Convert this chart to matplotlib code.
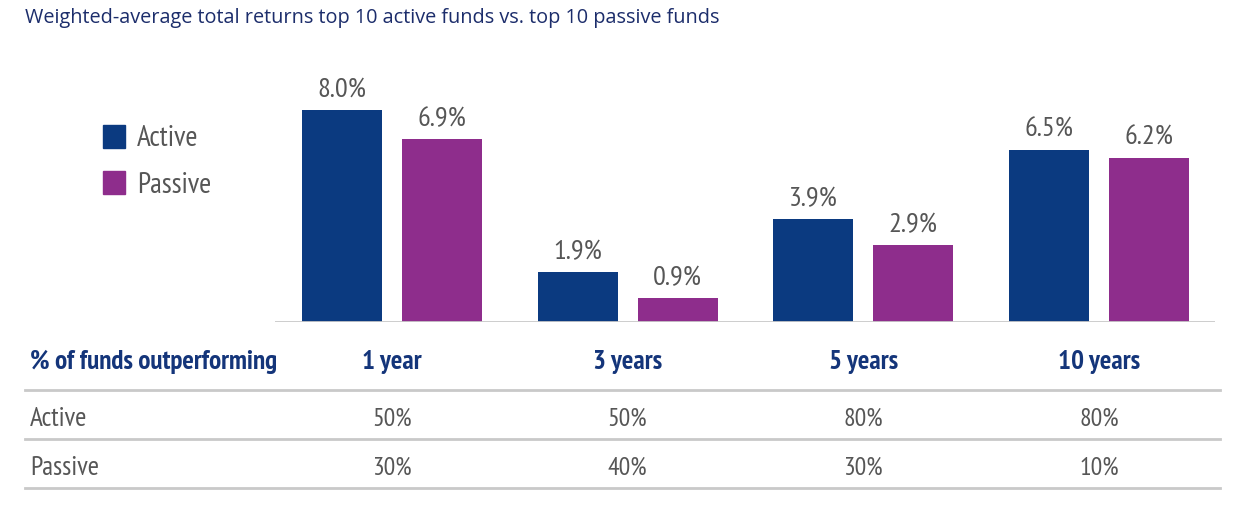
"""Weighted-average total returns: top 10 active vs. top 10 passive funds."""

import matplotlib
matplotlib.use("Agg")
import matplotlib.pyplot as plt
import matplotlib.patches as mpatches
from matplotlib.transforms import blended_transform_factory
import numpy as np

PERIODS = ["1 year", "3 years", "5 years", "10 years"]
ACTIVE_RETURN = [8.0, 1.9, 3.9, 6.5]
PASSIVE_RETURN = [6.9, 0.9, 2.9, 6.2]
ACTIVE_OUTPERF = ["50%", "50%", "80%", "80%"]
PASSIVE_OUTPERF = ["30%", "40%", "30%", "10%"]

ACTIVE_COLOR = "#0b3a80"
PASSIVE_COLOR = "#8e2d8c"
NAVY = "#14357a"
GREY_TEXT = "#565656"
RULE = "#c9c9c9"
NARROW = ["PT Sans Narrow", "DejaVu Sans"]

W, H = 1240, 518


def px(x, y):
    """Pixel position (from top-left) to figure fraction."""
    return x / W, 1 - y / H


def main():
    fig = plt.figure(figsize=(W / 100, H / 100), dpi=100)

    # bar axes: baseline at y=322px, spans x=275..1215px
    left, bottom = px(275, 322)
    _, top = px(0, 60)
    ax = fig.add_axes([left, bottom, 940 / W, top - bottom])
    x = np.arange(len(PERIODS))
    width = 0.34
    off = 0.212
    ax.bar(x - off, ACTIVE_RETURN, width, color=ACTIVE_COLOR, zorder=2)
    ax.bar(x + off, PASSIVE_RETURN, width, color=PASSIVE_COLOR, zorder=2)
    for xi, a, p in zip(x, ACTIVE_RETURN, PASSIVE_RETURN):
        ax.text(xi - off, a + 0.3, f"{a:.1f}%", ha="center", va="bottom",
                fontsize=20.5, color=GREY_TEXT, family=NARROW)
        ax.text(xi + off, p + 0.3, f"{p:.1f}%", ha="center", va="bottom",
                fontsize=20.5, color=GREY_TEXT, family=NARROW)
    ax.set_xlim(-0.496, 3.492)
    ax.set_ylim(0, 262 / 26.5)
    ax.axhline(0, color=RULE, linewidth=2, zorder=3)
    ax.set_axis_off()

    # legend squares
    for ypix, label, color in [(125, "Active", ACTIVE_COLOR), (171, "Passive", PASSIVE_COLOR)]:
        fx, fy = px(103, ypix + 23)
        fig.patches.append(mpatches.Rectangle((fx, fy), 22 / W, 23 / H, color=color,
                                              transform=fig.transFigure))
        tx, ty = px(137, ypix + 14)
        fig.text(tx, ty, label, ha="left", va="center", fontsize=21,
                 color=GREY_TEXT, family=NARROW)

    # title
    fig.text(*px(25, 18), "Weighted-average total returns top 10 active funds vs. top 10 passive funds",
             ha="left", va="center", fontsize=14.3, color="#1c2d6b", family="Open Sans")

    # table below the bars
    trans = blended_transform_factory(ax.transData, fig.transFigure)
    y_head, y_act, y_pas = 362, 419, 468
    fig.text(*px(30, y_head), "% of funds outperforming", ha="left", va="center",
             fontsize=19.5, fontweight="bold", color=NAVY, family=NARROW)
    fig.text(*px(30, y_act), "Active", ha="left", va="center",
             fontsize=19.5, color=GREY_TEXT, family=NARROW)
    fig.text(*px(30, y_pas), "Passive", ha="left", va="center",
             fontsize=19.5, color=GREY_TEXT, family=NARROW)
    for xi, period, a, p in zip(x, PERIODS, ACTIVE_OUTPERF, PASSIVE_OUTPERF):
        ax.text(xi, px(0, y_head)[1], period, transform=trans, ha="center", va="center",
                fontsize=19.5, fontweight="bold", color=NAVY, family=NARROW)
        ax.text(xi, px(0, y_act)[1], a, transform=trans, ha="center", va="center",
                fontsize=18.5, color=GREY_TEXT, family=NARROW)
        ax.text(xi, px(0, y_pas)[1], p, transform=trans, ha="center", va="center",
                fontsize=18.5, color=GREY_TEXT, family=NARROW)
    for ypix in [390, 439, 488]:
        y = px(0, ypix)[1]
        fig.add_artist(plt.Line2D([25 / W, 1220 / W], [y, y], color=RULE, linewidth=2,
                                  transform=fig.transFigure))

    fig.savefig("out.png", dpi=100, facecolor="white")
    plt.close(fig)


if __name__ == "__main__":
    main()
